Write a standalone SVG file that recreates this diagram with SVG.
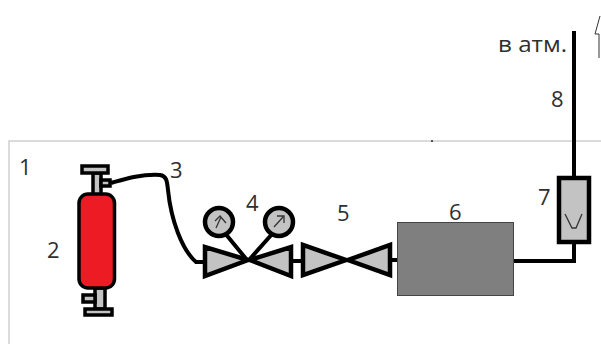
<svg xmlns="http://www.w3.org/2000/svg" width="601" height="344" viewBox="0 0 601 344">
<style>
.lbl{font-family:"Open Sans","Liberation Sans",sans-serif;font-size:22px;fill:#2f2f2f}
.g{fill:#c3c3c3;stroke:#000;stroke-width:4.500}
.v{fill:#c3c3c3;stroke:#000;stroke-width:3.500}
.w{fill:none;stroke:#000;stroke-width:4}
.t{fill:none;stroke:#333;stroke-width:1.300}
</style>
<rect width="601" height="344" fill="#fff"/>
<path d="M9 344V141H601" fill="none" stroke="#cfcfcf" stroke-width="1.500"/>
<rect x="431" y="140" width="2" height="2" fill="#555"/>
<g id="connectors">
<path class="w" d="M111 183C125 179 140 174 160 175C167 176 167 182 168 190C171 220 182 250 196 262H205"/>
<path class="w" d="M293 261H303"/>
<path class="w" d="M390 260H398"/>
<path class="w" d="M513 261H574V242"/>
<path class="w" d="M574 178V31"/>
</g>
<g id="n2">
<rect class="v" x="93" y="173" width="8" height="23"/>
<rect class="v" x="82" y="166" width="26" height="7"/>
<rect class="v" x="101" y="180" width="9" height="6"/>
<rect class="v" x="95" y="288" width="10" height="21"/>
<rect class="v" x="85" y="309" width="27" height="6"/>
<rect class="v" x="83" y="295" width="12" height="7"/>
<rect x="79" y="194" width="35.500" height="94" rx="9" fill="#ed1c24" stroke="#000" stroke-width="3.500"/>
</g>
<g id="n4">
<path class="w" d="M247 260L224 232M249 260L273 233"/>
<circle class="g" cx="219" cy="222" r="14"/>
<circle class="g" cx="279" cy="222" r="14"/>
<path class="t" d="M216 228L221 217M215 221L220 216L226 223M274 227L283 217M277 216H284V223"/>
<path class="g" d="M205 247V276L248 260ZM291 247V276L250 260Z"/>
</g>
<g id="n5">
<path class="g" d="M303 245V275L346 260ZM390 245V275L348 260Z"/>
</g>
<g id="n6">
<rect x="397.500" y="222.500" width="116" height="73" fill="#7f7f7f" stroke="#444" stroke-width="1"/>
</g>
<g id="n7">
<rect class="g" x="559" y="178" width="30" height="64"/>
<path class="t" d="M565 214L572 228H576L582 214"/>
</g>
<path d="M600 16L595 34H599V58" fill="none" stroke="#333" stroke-width="1"/>
<g id="labels">
<text class="lbl" x="19" y="175">1</text>
<text class="lbl" x="47" y="258">2</text>
<text class="lbl" x="170" y="178">3</text>
<text class="lbl" x="246" y="211">4</text>
<text class="lbl" x="337" y="221">5</text>
<text class="lbl" x="449" y="220">6</text>
<text class="lbl" x="538" y="205">7</text>
<text class="lbl" x="551" y="107">8</text>
<text class="lbl" x="498" y="52" style="font-size:22px" textLength="69" lengthAdjust="spacingAndGlyphs">в атм.</text>
</g>
</svg>
